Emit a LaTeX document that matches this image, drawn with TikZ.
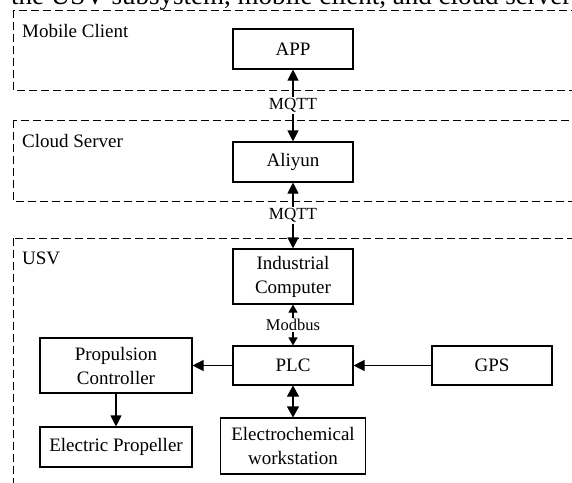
\documentclass[tikz,border=0pt]{standalone}
\usepackage{fontspec}
\setmainfont{Liberation Serif}
\usetikzlibrary{arrows.meta}
\begin{document}
\begin{tikzpicture}[x=1pt,y=-1pt,
  box/.style={draw, line width=1.1pt, inner sep=0pt, align=center, font=\fontsize{19}{24}\selectfont},
  region/.style={draw, dash pattern=on 8pt off 4pt, line width=0.9pt},
  rlabel/.style={anchor=west, inner sep=0pt, font=\fontsize{19}{24}\selectfont},
  lbl/.style={fill=white, inner sep=1pt, font=\fontsize{17}{20}\selectfont},
  slbl/.style={fill=white, inner sep=1pt, font=\fontsize{16.5}{19}\selectfont},
  arr/.style={line width=1.1pt, -{Triangle[width=11pt,length=11pt]}},
  darr/.style={line width=1.1pt, {Triangle[width=11pt,length=11pt]}-{Triangle[width=11pt,length=11pt]}},
  sarr/.style={line width=1.1pt, {Triangle[width=9pt,length=8pt]}-{Triangle[width=9pt,length=8pt]}},
  barr/.style={line width=1.1pt, {Triangle[width=12pt,length=11pt]}-{Triangle[width=12pt,length=11pt]}}
]
\useasboundingbox (0,0) rectangle (572,482);
\fill[white] (0,0) rectangle (572,482);
\clip (0,0) rectangle (572,482);

% cropped caption line at the top
\node[anchor=base west, inner sep=0pt, font=\fontsize{27}{30}\selectfont] (cap) at (11,4) {the USV subsystem, mobile client, and cloud server};

% regions
\draw[region] (13,10) rectangle (600,90);
\draw[region] (13,120) rectangle (600,201);
\draw[region] (13,238) rectangle (600,520);
\node[rlabel] (lmc) at (22,31) {Mobile Client};
\node[rlabel] (lcs) at (22,141) {Cloud Server};
\node[rlabel] (lusv) at (22,258) {USV};

% boxes
\node[box, minimum width=120pt, minimum height=40pt] (app) at (293,49) {APP};
\node[box, minimum width=120pt, minimum height=40pt] (ali) at (293,162) {Aliyun};
\node[box, minimum width=120pt, minimum height=55pt] (ipc) at (293,276.5) {Industrial\\Computer};
\node[box, minimum width=120pt, minimum height=39pt] (plc) at (293,365.5) {PLC};
\node[box, minimum width=152pt, minimum height=55pt] (prop) at (116,365.5) {Propulsion\\Controller};
\node[box, minimum width=120pt, minimum height=39pt] (gps) at (492,365.5) {GPS};
\node[box, minimum width=152pt, minimum height=40pt] (ep) at (116,447) {Electric Propeller};
\node[box, minimum width=145pt, minimum height=56pt] (ecw) at (293,446) {Electrochemical\\workstation};

% connectors
\draw[darr] (app.south) -- (ali.north) node[lbl, midway] (m1) {MQTT};
\draw[darr] (ali.south) -- (ipc.north) node[lbl, midway] (m2) {MQTT};
\draw[sarr] (ipc.south) -- (plc.north) node[slbl, midway] (mb) {Modbus};
\draw[arr] (plc.west) -- (prop.east);
\draw[arr] (gps.west) -- (plc.east);
\draw[arr] (prop.south) -- (ep.north);
\draw[barr] (plc.south) -- (ecw.north);
\end{tikzpicture}
\end{document}
